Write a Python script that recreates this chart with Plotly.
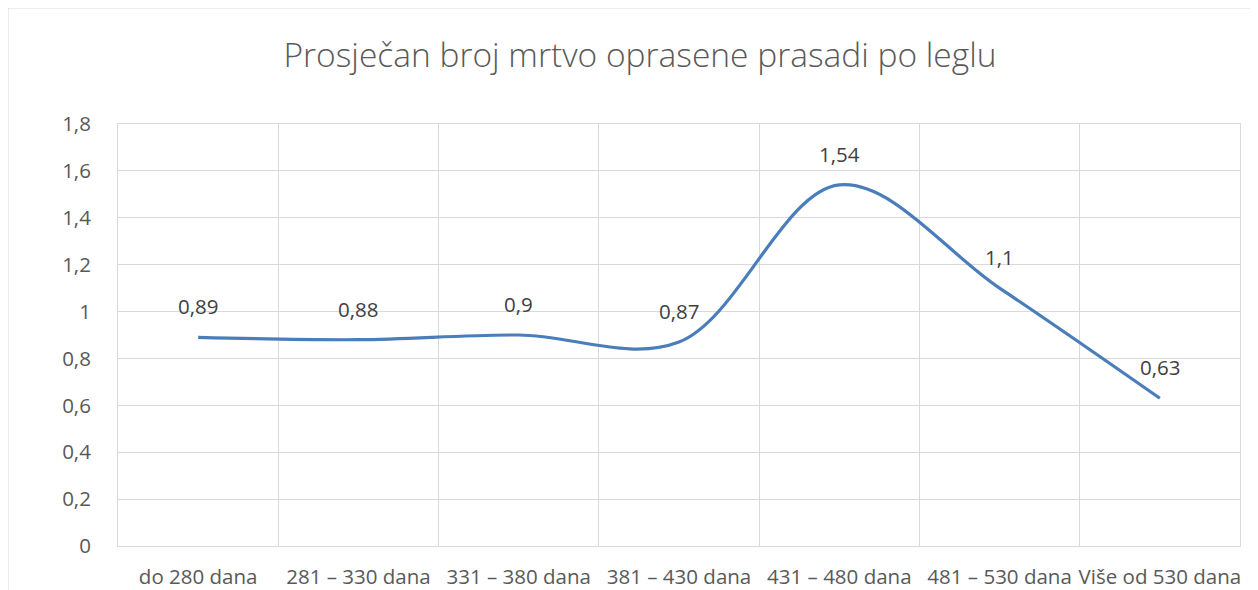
import plotly.graph_objects as go

categories = ["do 280 dana", "281 – 330 dana", "331 – 380 dana", "381 – 430 dana",
              "431 – 480 dana", "481 – 530 dana", "Više od 530 dana"]
values = [0.89, 0.88, 0.9, 0.87, 1.54, 1.1, 0.63]
value_labels = ["0,89", "0,88", "0,9", "0,87", "1,54", "1,1", "0,63"]
title_text = "Prosječan broj mrtvo oprasene prasadi po leglu"

FONT = "Open Sans"
GRID = "#d9d9d9"
OFF = 8  # page body margin offset

W, H = 1258 - OFF, 590 - OFF
L, R, T, B = 118 - OFF, 18, 124 - OFF, 44
PW, PH = W - L - R, H - T - B

fig = go.Figure()
fig.add_trace(go.Scatter(
    x=categories, y=values, mode="lines",
    line=dict(color="#4A7EBB", width=3.2, shape="spline", smoothing=1.0),
    hoverinfo="skip", showlegend=False,
))

for c, v, t in zip(categories, values, value_labels):
    fig.add_annotation(x=c, y=v, text=t, showarrow=False, yshift=31,
                       xanchor="center", yanchor="middle",
                       font=dict(family=FONT, size=20.5, color="#404040"))

# outer chart border (page px 8,8)
fig.add_shape(type="rect", xref="paper", yref="paper",
              x0=(8 - 118) / PW, x1=1.2, y0=-0.5, y1=(546 - 8) / PH,
              line=dict(color=GRID, width=1), fillcolor="rgba(0,0,0,0)", layer="below")

fig.update_layout(
    template="none",
    width=W, height=H,
    margin=dict(l=L, r=R, t=T, b=B, autoexpand=False),
    paper_bgcolor="white", plot_bgcolor="white",
    separators=", ",
    title=dict(text=title_text, x=(640 - OFF) / W, xref="container", xanchor="center",
               y=1 - (55 - OFF) / H, yref="container", yanchor="middle",
               font=dict(family=FONT, size=33.5, color="#595959", weight=300)),
    font=dict(family=FONT, color="#595959"),
)
fig.update_xaxes(
    type="category", tickson="boundaries", showgrid=True, gridcolor=GRID, gridwidth=1,
    ticks="", showline=True, linecolor=GRID, mirror=True, automargin=False,
    tickangle=0,
    tickfont=dict(family=FONT, size=20.5, color="#595959"),
    ticklabelstandoff=12, range=[-0.5, 6.5], fixedrange=True,
)
fig.update_yaxes(
    range=[0, 1.8], dtick=0.2, tick0=0, showgrid=True, gridcolor=GRID, gridwidth=1,
    ticks="", showline=True, linecolor=GRID, mirror=True, zeroline=False, automargin=False,
    tickfont=dict(family=FONT, size=20.5, color="#595959"),
    ticklabelstandoff=22, fixedrange=True,
)

fig.write_html("out.html")
